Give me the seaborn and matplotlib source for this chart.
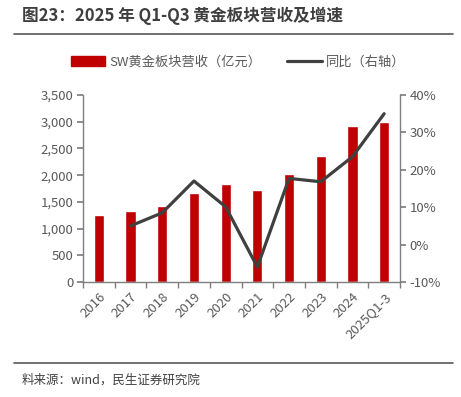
import matplotlib
matplotlib.use("Agg")
import matplotlib.pyplot as plt
import seaborn as sns
import pandas as pd
import numpy as np
from matplotlib.lines import Line2D
from matplotlib.patches import Patch
from matplotlib.ticker import FuncFormatter, MultipleLocator

categories = ["2016", "2017", "2018", "2019", "2020", "2021", "2022", "2023", "2024", "2025Q1-3"]
revenue = [1260, 1320, 1430, 1670, 1840, 1720, 2030, 2360, 2920, 3000]
yoy = [np.nan, 5.0, 8.5, 17.0, 10.1, -6.0, 17.7, 16.8, 23.5, 35.0]

sns.set_theme(style="white")
plt.rcParams['font.family'] = ['Noto Sans CJK SC', 'DejaVu Sans']
plt.rcParams['axes.unicode_minus'] = False

df = pd.DataFrame({"cat": categories, "revenue": revenue, "yoy": yoy})

fig = plt.figure(figsize=(4.61, 3.97), dpi=100)
ax = fig.add_axes([83/461, 1-282/397, 317/461, 187/397])

red = "#C00000"
dark = "#404040"
gray = "#595959"

sns.barplot(data=df, x="cat", y="revenue", color=red, width=0.32, ax=ax, saturation=1)
ax.set_xlim(-0.5, 9.5)
ax.set_ylim(0, 3500)
ax.yaxis.set_major_locator(MultipleLocator(500))
ax.yaxis.set_major_formatter(FuncFormatter(lambda v, p: f"{int(v):,}"))
ax.set_xlabel("")
ax.set_ylabel("")

ax2 = ax.twinx()
x = np.arange(len(categories))
sns.lineplot(x=x, y=df["yoy"], color=dark, linewidth=2.3, ax=ax2)
ax2.set_ylim(-10, 40)
ax2.yaxis.set_major_locator(MultipleLocator(10))
ax2.yaxis.set_major_formatter(FuncFormatter(lambda v, p: f"{int(v)}%"))
ax2.set_ylabel("")
ax2.set_xlim(-0.5, 9.5)

for a in (ax, ax2):
    for s in a.spines.values():
        s.set_visible(False)
    a.grid(False)

ax.spines['left'].set_visible(True)
ax.spines['bottom'].set_visible(True)
ax2.spines['right'].set_visible(True)
for s in (ax.spines['left'], ax.spines['bottom'], ax2.spines['right']):
    s.set_color("#7f7f7f")
    s.set_linewidth(1.0)

ax.tick_params(axis='y', which='major', direction='out', length=4, color="#7f7f7f",
               labelsize=9.5, labelcolor=gray, left=True, pad=3)
ax2.tick_params(axis='y', which='major', direction='out', length=4, color="#7f7f7f",
                labelsize=9.5, labelcolor=gray, right=True, pad=3)

ax.set_xticks(x)
ax.set_xticklabels(categories, rotation=45, ha='right', rotation_mode='anchor')
ax.set_xticks(np.arange(-0.5, 10, 1), minor=True)
ax.tick_params(axis='x', which='major', length=0, labelsize=9.5, labelcolor=gray, pad=6)
ax.tick_params(axis='x', which='minor', direction='out', length=4, color="#7f7f7f", bottom=True)

# Title
fig.text(22/461, 1-16/397, "图23：2025 年 Q1-Q3 黄金板块营收及增速", fontsize=12,
         fontweight='bold', color="#3f3f3f", va='center', ha='left')
fig.add_artist(Line2D([14/461, 453/461], [1-34/397, 1-34/397], color="#595959", linewidth=1.2))

# Legend
handles = [Patch(facecolor=red, edgecolor=red),
           Line2D([0], [0], color=dark, linewidth=2.3)]
labels = ["SW黄金板块营收（亿元）", "同比（右轴）"]
fig.legend(handles, labels, loc='center', bbox_to_anchor=(238/461, 1-62/397), ncol=2,
           frameon=False, fontsize=9.5, labelcolor=gray, handlelength=2.6, handleheight=0.7,
           columnspacing=2.0, handletextpad=0.3)

# Footer
fig.add_artist(Line2D([14/461, 453/461], [1-363/397, 1-363/397], color="#595959", linewidth=1.2))
fig.text(22/461, 1-380/397, "料来源：wind，民生证券研究院", fontsize=9, color="#404040",
         va='center', ha='left')

fig.savefig("out.png", dpi=100)
